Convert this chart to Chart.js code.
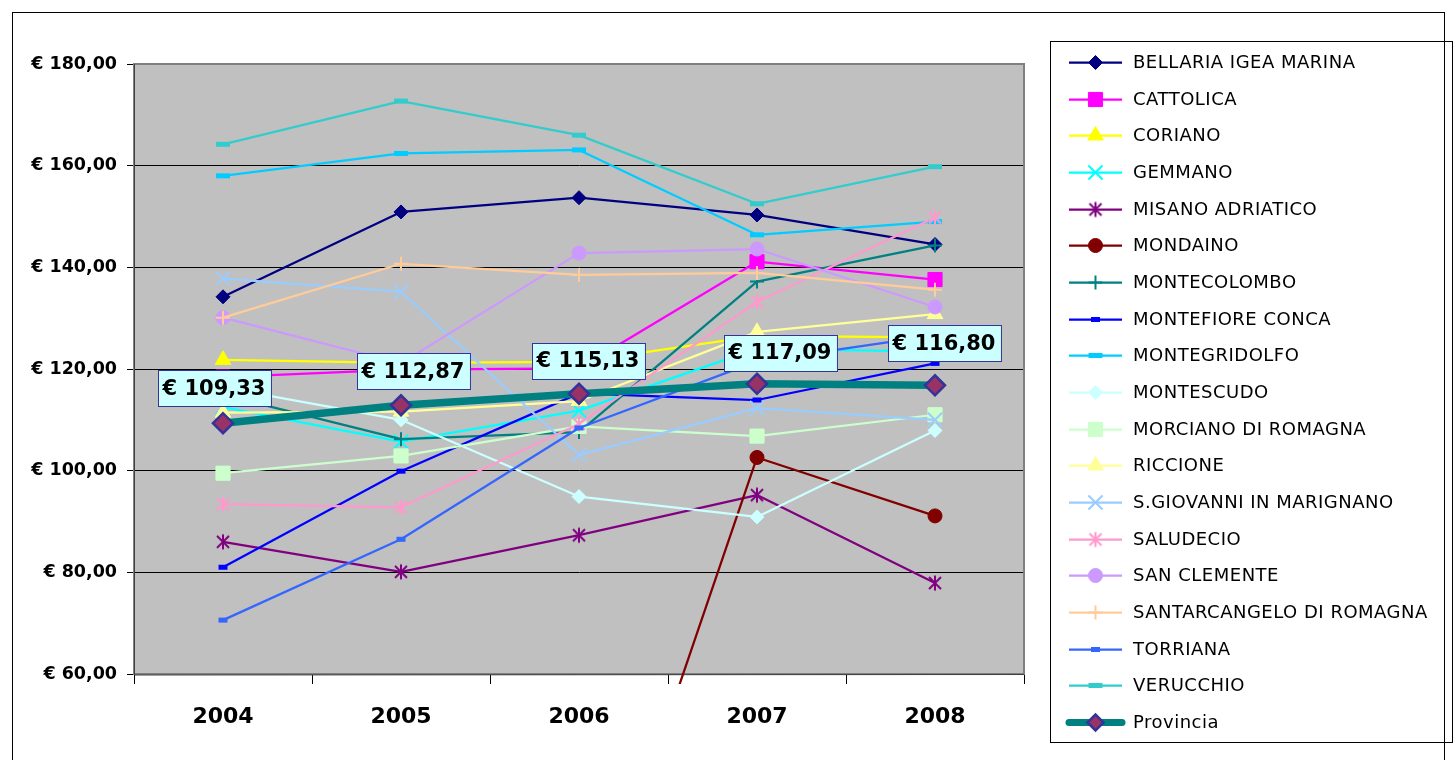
<!DOCTYPE html>
<html>
<head>
<meta charset="utf-8">
<script src="https://cdn.jsdelivr.net/npm/chart.js"></script>
<style>
  html, body { margin: 0; padding: 0; background: #ffffff; overflow: hidden; }
  canvas { display: block; }
</style>
</head>
<body>
<canvas id="chart" width="1456" height="760"></canvas>
<script>
// Spesa media per abitante, comuni della provincia di Rimini
const years = ['2004', '2005', '2006', '2007', '2008'];
const yTickValues = [60, 80, 100, 120, 140, 160, 180];

const bellaria      = [134.2, 150.9, 153.7, 150.3, 144.5];
const cattolica     = [118.4, 119.9, 120.1, 141.1, 137.6];
const coriano       = [121.8, 121.2, 121.4, 126.5, 126.2];
const gemmano       = [112.5, 105.7, 111.8, 124.0, 123.4];
const misano        = [86.0, 80.1, 87.3, 95.2, 77.9];
const mondaino      = [null, null, 0, 102.6, 91.1];
const montecolombo  = [114.9, 106.2, 107.6, 137.2, 144.3];
const montefiore    = [81.0, 99.9, 115.2, 113.9, 121.1];
const montegridolfo = [158.0, 162.4, 163.1, 146.4, 149.0];
const montescudo    = [116.4, 110.0, 94.9, 90.9, 107.9];
const morciano      = [99.5, 102.9, 108.7, 106.8, 111.0];
const riccione      = [111.4, 111.6, 113.7, 127.3, 130.8];
const sGiovanni     = [137.8, 135.2, 103.1, 112.3, 110.0];
const saludecio     = [93.4, 92.8, 109.2, 133.2, 149.8];
const sanClemente   = [130.1, 121.1, 142.8, 143.6, 132.2];
const santarcangelo = [130.1, 140.7, 138.5, 138.9, 135.6];
const torriana      = [70.6, 86.5, 108.4, 121.5, 126.6];
const verucchio     = [164.2, 172.7, 166.0, 152.5, 159.8];
const provincia     = [109.33, 112.87, 115.13, 117.09, 116.80];

const FONT = "'DejaVu Sans', Verdana, sans-serif";

// Asterisk marker (X plus vertical stroke)
function asteriskMarker(color) {
  const size = 18, m = size / 2;
  const c = document.createElement('canvas');
  c.width = size; c.height = size;
  const g = c.getContext('2d');
  g.strokeStyle = color;
  g.lineWidth = 2;
  g.beginPath();
  g.moveTo(m - 6, m - 6); g.lineTo(m + 6, m + 6);
  g.moveTo(m + 6, m - 6); g.lineTo(m - 6, m + 6);
  g.moveTo(m, m - 7.5); g.lineTo(m, m + 7.5);
  g.stroke();
  return c;
}

const series = [
  { name: 'BELLARIA IGEA MARINA', data: bellaria, color: '#000080', marker: 'rectRot', r: 7, bw: 1 },
  { name: 'CATTOLICA', data: cattolica, color: '#FF00FF', marker: 'rect', r: 10, bw: 1 },
  { name: 'CORIANO', data: coriano, color: '#FFFF00', marker: 'triangle', r: 9, bw: 1 },
  { name: 'GEMMANO', data: gemmano, color: '#00FFFF', marker: 'crossRot', r: 10, bw: 2 },
  { name: 'MISANO ADRIATICO', data: misano, color: '#800080', marker: asteriskMarker('#800080'), r: 8, bw: 2 },
  { name: 'MONDAINO', data: mondaino, color: '#800000', marker: 'circle', r: 7, bw: 1 },
  { name: 'MONTECOLOMBO', data: montecolombo, color: '#008080', marker: 'cross', r: 7, bw: 2 },
  { name: 'MONTEFIORE CONCA', data: montefiore, color: '#0000FF', marker: 'line', r: 4.5, bw: 5 },
  { name: 'MONTEGRIDOLFO', data: montegridolfo, color: '#00CCFF', marker: 'line', r: 7, bw: 5 },
  { name: 'MONTESCUDO', data: montescudo, color: '#CCFFFF', marker: 'rectRot', r: 7, bw: 1 },
  { name: 'MORCIANO DI ROMAGNA', data: morciano, color: '#CCFFCC', marker: 'rect', r: 10, bw: 1 },
  { name: 'RICCIONE', data: riccione, color: '#FFFF99', marker: 'triangle', r: 9, bw: 1 },
  { name: 'S.GIOVANNI IN MARIGNANO', data: sGiovanni, color: '#99CCFF', marker: 'crossRot', r: 10, bw: 2 },
  { name: 'SALUDECIO', data: saludecio, color: '#FF99CC', marker: asteriskMarker('#FF99CC'), r: 8, bw: 2 },
  { name: 'SAN CLEMENTE', data: sanClemente, color: '#CC99FF', marker: 'circle', r: 7, bw: 1 },
  { name: 'SANTARCANGELO DI ROMAGNA', data: santarcangelo, color: '#FFCC99', marker: 'cross', r: 7, bw: 2 },
  { name: 'TORRIANA', data: torriana, color: '#3366FF', marker: 'line', r: 4.5, bw: 5 },
  { name: 'VERUCCHIO', data: verucchio, color: '#33CCCC', marker: 'line', r: 7, bw: 5 }
];

const datasets = series.map((s, i) => ({
  label: s.name,
  data: s.data,
  borderColor: s.color,
  backgroundColor: s.color,
  borderWidth: 2.25,
  borderJoinStyle: 'round',
  pointStyle: s.marker,
  pointRadius: s.r,
  pointBorderWidth: s.bw,
  pointBackgroundColor: s.color,
  pointBorderColor: s.color,
  tension: 0,
  spanGaps: false,
  order: series.length - i + 1,
  clip: { left: 0, top: 0, right: 0, bottom: 10 }
}));

datasets.push({
  label: 'Provincia',
  data: provincia,
  borderColor: '#008080',
  backgroundColor: '#008080',
  borderWidth: 7.5,
  borderJoinStyle: 'round',
  pointStyle: 'rectRot',
  pointRadius: 10,
  pointBorderWidth: 2.5,
  pointBackgroundColor: '#993366',
  pointBorderColor: '#333399',
  tension: 0,
  order: 0,
  isTotal: true
});

function euro(v) {
  return '€ ' + Number(v).toFixed(2).replace('.', ',');
}

// Grey plot background and outer frame
const backgroundPlugin = {
  id: 'plotBackground',
  beforeDraw(chart) {
    const { ctx, chartArea: a } = chart;
    ctx.save();
    ctx.fillStyle = '#ffffff';
    ctx.fillRect(0, 0, chart.width, chart.height);
    ctx.fillStyle = '#C0C0C0';
    ctx.fillRect(a.left, a.top, a.right - a.left, a.bottom - a.top);
    ctx.strokeStyle = '#000000';
    ctx.lineWidth = 1;
    ctx.strokeRect(12.5, 12.5, 1432, 800);
    ctx.restore();
  },
  beforeDatasetsDraw(chart) {
    const { ctx, chartArea: a } = chart;
    ctx.save();
    ctx.strokeStyle = '#808080';
    ctx.lineWidth = 2;
    ctx.strokeRect(a.left, a.top, a.right - a.left, a.bottom - a.top);
    ctx.strokeStyle = '#404040';
    ctx.lineWidth = 1;
    ctx.beginPath();
    ctx.moveTo(a.left + 0.5, a.top);
    ctx.lineTo(a.left + 0.5, a.bottom + 1);
    ctx.lineTo(a.right, a.bottom + 0.5);
    ctx.stroke();
    ctx.restore();
  }
};

// Value boxes on the Provincia line
const valueBoxPlugin = {
  id: 'valueBoxes',
  afterDatasetsDraw(chart, args, opts) {
    const { ctx } = chart;
    const idx = chart.data.datasets.findIndex(d => d.isTotal);
    const meta = chart.getDatasetMeta(idx);
    const values = chart.data.datasets[idx].data;
    ctx.save();
    ctx.font = 'bold 21px ' + FONT;
    ctx.textAlign = 'center';
    ctx.textBaseline = 'middle';
    meta.data.forEach((pt, i) => {
      const text = euro(values[i]);
      const shift = opts.shifts[i];
      const cx = pt.x + shift[0], cy = pt.y + shift[1];
      const w = ctx.measureText(text).width + 10, h = 36;
      const x0 = Math.round(cx - w / 2) + 0.5, y0 = Math.round(cy - h / 2) + 0.5;
      ctx.fillStyle = '#CCFFFF';
      ctx.fillRect(x0, y0, w, h);
      ctx.strokeStyle = '#333399';
      ctx.lineWidth = 1;
      ctx.strokeRect(x0, y0, w, h);
      ctx.fillStyle = '#000000';
      ctx.fillText(text, cx, cy + 1);
    });
    ctx.restore();
  }
};

// Legend panel: line sample, marker and name for every series
const legendPanelPlugin = {
  id: 'legendPanel',
  afterDraw(chart, args, opts) {
    const { ctx } = chart;
    const ds = chart.data.datasets;
    ctx.save();
    ctx.strokeStyle = '#000000';
    ctx.lineWidth = 1;
    ctx.strokeRect(opts.left + 0.5, opts.top + 0.5, opts.right - opts.left, opts.bottom - opts.top);
    ctx.font = '18px ' + FONT;
    ctx.textBaseline = 'middle';
    ctx.textAlign = 'left';
    ds.forEach((d, i) => {
      const y = Math.round(opts.firstY + i * opts.step) + 0.5;
      ctx.strokeStyle = d.borderColor;
      ctx.lineWidth = d.isTotal ? 7 : d.borderWidth;
      ctx.lineCap = d.isTotal ? 'round' : 'butt';
      ctx.beginPath();
      ctx.moveTo(opts.lineX0, y);
      ctx.lineTo(opts.lineX1, y);
      ctx.stroke();
      ctx.lineCap = 'butt';
      ctx.fillStyle = d.pointBackgroundColor;
      ctx.strokeStyle = d.pointBorderColor;
      ctx.lineWidth = d.pointBorderWidth;
      Chart.helpers.drawPoint(ctx, {
        pointStyle: d.pointStyle,
        radius: d.isTotal ? 8 : d.pointRadius,
        rotation: 0,
        borderWidth: d.pointBorderWidth
      }, (opts.lineX0 + opts.lineX1) / 2, y);
      ctx.fillStyle = '#000000';
      if ('letterSpacing' in ctx) ctx.letterSpacing = '0.5px';
      ctx.fillText(d.label, opts.textX, y + 1);
      if ('letterSpacing' in ctx) ctx.letterSpacing = '0px';
    });
    ctx.restore();
  }
};

new Chart(document.getElementById('chart'), {
  type: 'line',
  data: { labels: years, datasets: datasets },
  plugins: [backgroundPlugin, valueBoxPlugin, legendPanelPlugin],
  options: {
    responsive: false,
    animation: false,
    events: [],
    devicePixelRatio: 1,
    layout: { padding: { top: 64, right: 432, left: 0, bottom: 0 } },
    plugins: {
      legend: { display: false },
      tooltip: { enabled: false },
      title: { display: false },
      valueBoxes: { shifts: [[-9, -35], [12, -34], [9, -33], [23, -31], [9, -42]] },
      legendPanel: {
        left: 1050, top: 41, right: 1452, bottom: 742,
        firstY: 62, step: 36.67,
        lineX0: 1069, lineX1: 1122, textX: 1133
      }
    },
    scales: {
      x: {
        type: 'category',
        offset: true,
        afterFit(scale) { scale.height = 86; },
        grid: {
          offset: true,
          drawOnChartArea: false,
          drawTicks: true,
          tickLength: 10,
          color: '#000000'
        },
        border: { display: true, color: '#404040' },
        ticks: {
          color: '#000000',
          padding: 20,
          maxRotation: 0,
          font: { family: FONT, size: 22, weight: 'bold' }
        }
      },
      y: {
        min: 60,
        max: 180,
        afterFit(scale) { scale.width = 134; },
        afterBuildTicks(scale) { scale.ticks = yTickValues.map(v => ({ value: v })); },
        grid: {
          color: '#000000',
          lineWidth: 1,
          tickLength: 7,
          drawTicks: true
        },
        border: { display: true, color: '#404040' },
        ticks: {
          color: '#000000',
          padding: 10,
          font: { family: FONT, size: 17.5, weight: 'bold' },
          callback: (v) => euro(v)
        }
      }
    }
  }
});
</script>
</body>
</html>
